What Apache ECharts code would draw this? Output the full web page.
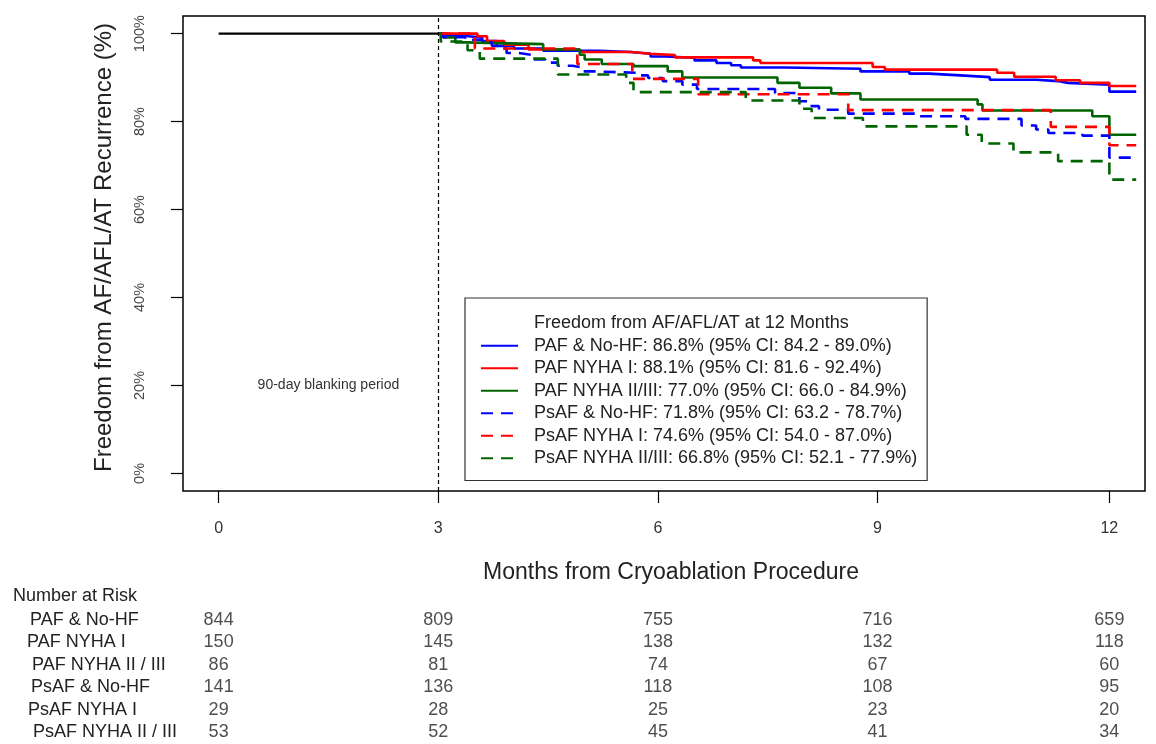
<!DOCTYPE html>
<html>
<head>
<meta charset="utf-8">
<script src="https://cdn.jsdelivr.net/npm/echarts@6/dist/echarts.min.js"></script>
<style>
html,body{margin:0;padding:0;background:#fff;}
#chart{width:1156px;height:744px;}
</style>
</head>
<body>
<div id="chart"></div>
<script>
// ---- tick labels (x in days, labelled in months) ----
const xTickDays = [0, 90, 180, 270, 365];
const xTickLabels = ['0', '3', '6', '9', '12'];
const yTicks = [0, 20, 40, 60, 80, 100];

const xTitle = 'Months from Cryoablation Procedure';
const yTitle = 'Freedom from AF/AFL/AT Recurrence (%)';
const legendTitle = 'Freedom from AF/AFL/AT at 12 Months';
const blankingText = '90-day blanking period';
const blankingDay = 90;
const blankingTextPos = [45, 20];

const seriesNames = [
  'PAF & No-HF: 86.8% (95% CI: 84.2 - 89.0%)',
  'PAF NYHA I: 88.1% (95% CI: 81.6 - 92.4%)',
  'PAF NYHA II/III: 77.0% (95% CI: 66.0 - 84.9%)',
  'PsAF & No-HF: 71.8% (95% CI: 63.2 - 78.7%)',
  'PsAF NYHA I: 74.6% (95% CI: 54.0 - 87.0%)',
  'PsAF NYHA II/III: 66.8% (95% CI: 52.1 - 77.9%)'
];

// ---- Kaplan-Meier steps: [day, % free after event] ----
const blankingLine = [[0, 100], [90, 100]];
const pafNoHF = [[90,100],[91.5,99.5],[100,99.1],[108,98.3],[114,97.2],[121,96.6],[133,96.1],[156,95.8],[169,95.4],[177,94.8],[183,94.5],[195,93.9],[204,93.3],[210,92.8],[214,92.3],[232,92.0],[263,91.4],[283,90.9],[291,90.5],[304,90.1],[316,89.5],[335,89.2],[344,88.8],[348,88.4],[365,86.8],[376,86.8]];
const pafNyha1 = [[90,100],[106,99.4],[110,98.3],[117,97.5],[127,96.4],[148,95.8],[169,95.4],[177,95.1],[187,94.6],[219,93.9],[222,93.3],[268,92.4],[273,91.8],[319,91.1],[326,90.2],[343,89.4],[353,88.8],[365,88.1],[376,88.1]];
const pafNyha23 = [[90,100],[92,99.1],[97,98.0],[101,97.6],[133,96.4],[148,95.2],[150,94.1],[157,93.1],[170,92.6],[184,91.4],[190,90.0],[229,88.8],[238,87.7],[251,86.4],[263,85.0],[311,83.9],[313,82.5],[358,81.2],[365,77.0],[376,77.0]];
const psafNoHF = [[90,100],[92,99.2],[101,98.6],[108,98.0],[112,97.2],[115,96.6],[118,95.6],[123,95.2],[128,94.1],[134,93.4],[139,92.7],[145,92.3],[149,91.4],[154,91.1],[171,90.5],[176,89.9],[182,89.2],[190,88.4],[196,87.4],[228,86.5],[238,84.6],[243,83.5],[246,82.7],[258,81.8],[286,81.2],[306,80.6],[329,79.1],[335,78.2],[340,77.4],[354,76.8],[365,71.8],[376,71.8]];
const psafNyha1 = [[90,100],[105,96.6],[147,93.1],[169.5,89.7],[196.5,86.2],[258,82.6],[341,78.8],[365,74.6],[376,74.6]];
const psafNyha23 = [[90,100],[91,98.2],[102,96.2],[107,94.3],[139,90.7],[167,88.8],[170,86.7],[216,84.8],[238,82.9],[243,80.8],[264,78.9],[306.5,77.0],[312.7,75.0],[325.7,73.0],[344,71.0],[365,66.8],[376,66.8]];

// ---- number at risk ----
const riskTitle = 'Number at Risk';
const riskDays = [0, 90, 180, 270, 365];
const riskRowLabels = ['PAF & No-HF', 'PAF NYHA I', 'PAF NYHA II / III', 'PsAF & No-HF', 'PsAF NYHA I', 'PsAF NYHA II / III'];
const riskPafNoHF = [844, 809, 755, 716, 659];
const riskPafNyha1 = [150, 145, 138, 132, 118];
const riskPafNyha23 = [86, 81, 74, 67, 60];
const riskPsafNoHF = [141, 136, 118, 108, 95];
const riskPsafNyha1 = [29, 28, 25, 23, 20];
const riskPsafNyha23 = [53, 52, 45, 41, 34];

// ---- build option ----
const FONT = "'Liberation Sans', Arial, sans-serif";
const curveData = [pafNoHF, pafNyha1, pafNyha23, psafNoHF, psafNyha1, psafNyha23];
const curveColors = ['#0000ff', '#ff0000', '#006400', '#0000ff', '#ff0000', '#006400'];
const curveDash = ['solid', 'solid', 'solid', [12, 8], [12, 8], [12, 8]];
const riskRows = [riskPafNoHF, riskPafNyha1, riskPafNyha23, riskPsafNoHF, riskPsafNyha1, riskPsafNyha23];
const rowIndent = [3, 0, 5, 4, 1, 6];

const riskData = [];
riskRows.forEach((row, r) => row.forEach((n, c) => riskData.push([riskDays[c], riskRowLabels[r], n])));

const series = [];
series.push({
  name: legendTitle, type: 'line', data: [], symbol: 'none',
  lineStyle: { width: 0, opacity: 0 }, itemStyle: { color: '#fff', opacity: 0 }
});
curveData.forEach((d, i) => {
  series.push({
    name: seriesNames[i], type: 'line', step: 'end', data: d, symbol: 'none',
    xAxisIndex: 0, yAxisIndex: 0,
    lineStyle: { color: curveColors[i], width: 2.6, type: curveDash[i] },
    itemStyle: { color: curveColors[i] },
    z: 3
  });
});
series.push({
  name: 'blanking', type: 'line', data: blankingLine, symbol: 'none',
  lineStyle: { color: '#000', width: 2.2 }, z: 4,
  markLine: {
    silent: true, symbol: ['none', 'none'],
    label: { show: false },
    lineStyle: { color: '#000', width: 1.2, type: [4, 3] },
    data: [{ xAxis: blankingDay }]
  },
  markPoint: {
    silent: true, symbol: 'circle', symbolSize: 0,
    label: { show: true, position: 'inside', formatter: blankingText, fontFamily: FONT, fontSize: 14, color: '#333' },
    data: [{ coord: blankingTextPos }]
  }
});
series.push({
  name: 'risk', type: 'scatter', xAxisIndex: 1, yAxisIndex: 1,
  data: riskData, symbolSize: 0,
  label: { show: true, position: 'inside', formatter: p => String(p.value[2]), fontFamily: FONT, fontSize: 18, color: '#222' }
});

const rich = {};
rowIndent.forEach((p, i) => { rich['r' + i] = { padding: [0, 0, 0, p], fontFamily: FONT, fontSize: 18, color: '#222' }; });

const option = {
  animation: false,
  backgroundColor: '#fff',
  grid: [
    { left: 183, top: 16, width: 962, height: 475, show: true, borderColor: '#000', borderWidth: 1.5, backgroundColor: 'transparent' },
    { left: 183, top: 608.5, width: 962, height: 135, show: false }
  ],
  xAxis: [
    {
      type: 'value', gridIndex: 0, min: -14.6, max: 379.6,
      axisLine: { show: false, onZero: false }, splitLine: { show: false },
      axisTick: { show: true, customValues: xTickDays, length: 12, lineStyle: { color: '#000', width: 1.2 } },
      axisLabel: { customValues: xTickDays, formatter: v => xTickLabels[xTickDays.indexOf(v)], margin: 30, fontFamily: FONT, fontSize: 16, color: '#333' },
      name: xTitle, nameLocation: 'middle', nameGap: 70,
      nameTextStyle: { fontFamily: FONT, fontSize: 23, color: '#222', padding: [0, 0, 0, 14] }
    },
    { type: 'value', gridIndex: 1, min: -14.6, max: 379.6, show: false }
  ],
  yAxis: [
    {
      type: 'value', gridIndex: 0, min: -4, max: 104,
      axisLine: { show: false, onZero: false }, splitLine: { show: false },
      axisTick: { show: true, customValues: yTicks, length: 12, lineStyle: { color: '#000', width: 1.2 } },
      axisLabel: { customValues: yTicks, formatter: v => v + '%', rotate: 90, margin: 36, fontFamily: FONT, fontSize: 14.5, color: '#444' },
      name: yTitle, nameLocation: 'middle', nameGap: 67,
      nameTextStyle: { fontFamily: FONT, fontSize: 24, color: '#222', padding: [0, 0, 0, 12] }
    },
    {
      type: 'category', gridIndex: 1, data: riskRowLabels, inverse: true,
      axisLine: { show: false }, axisTick: { show: false }, splitLine: { show: false },
      axisLabel: {
        align: 'left', margin: 156,
        formatter: (v, i) => '{r' + i + '|' + v + '}', rich: rich
      }
    }
  ],
  legend: {
    left: 465, top: 298, orient: 'vertical',
    padding: [14, 10, 11, 15],
    itemWidth: 37, itemHeight: 14, itemGap: 0,
    borderColor: '#333', borderWidth: 1.2, backgroundColor: '#fff',
    selectedMode: false,
    itemStyle: { opacity: 0 },
    textStyle: { fontFamily: FONT, fontSize: 18, color: '#222', lineHeight: 22.5, padding: [0, 0, 0, 11] },
    data: [legendTitle].concat(seriesNames)
  },
  graphic: [
    { type: 'text', left: 13, top: 587, style: { text: riskTitle, fontFamily: FONT, fontSize: 18, fill: '#222' } }
  ],
  series: series
};

const chart = echarts.init(document.getElementById('chart'), null, { renderer: 'canvas' });
chart.setOption(option);
</script>
</body>
</html>
